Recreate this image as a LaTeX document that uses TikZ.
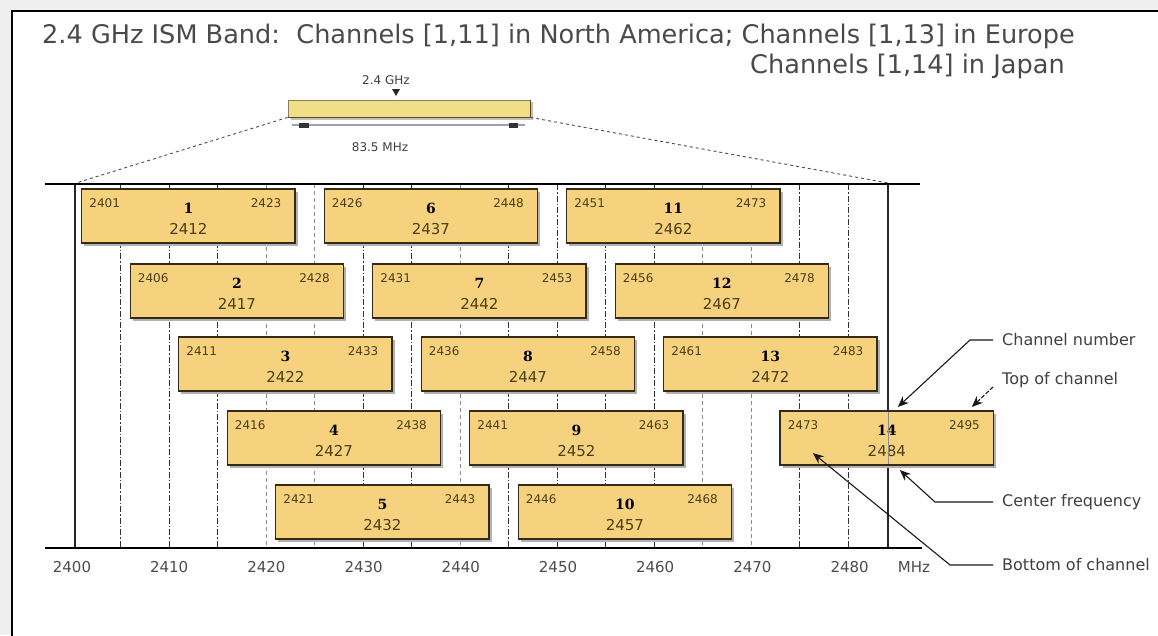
\documentclass[tikz,border=0pt]{standalone}
\usepackage{fontspec}
\setmainfont{DejaVu Sans}
\newfontfamily\chnumfont{DejaVu Serif}
\usetikzlibrary{arrows.meta,calc}
\definecolor{boxfill}{HTML}{F7D27E}
\definecolor{barfill}{HTML}{F2DE86}
\definecolor{boxline}{HTML}{332A18}
\definecolor{txtdark}{HTML}{4A3E14}
\definecolor{framebg}{HTML}{EFEFEF}
\definecolor{titlegray}{HTML}{4A4A4A}
\definecolor{dimgray}{HTML}{9AA0B0}
\definecolor{baredge}{HTML}{5A4A20}
\begin{document}
\begin{tikzpicture}[x=1pt,y=-1pt,
  chbox/.style={draw=boxline, line width=1.4pt, fill=boxfill, minimum width=213.4pt, minimum height=54pt, inner sep=0pt, outer sep=0pt},
  shadowbox/.style={fill=black!30, draw=none, minimum width=213.4pt, minimum height=54pt, inner sep=0pt},
  edgelbl/.style={font=\fontsize{12}{14}\selectfont, text=txtdark, inner sep=0pt},
  numlbl/.style={font=\chnumfont\bfseries\fontsize{14}{16}\selectfont, text=black, inner sep=0pt},
  cflbl/.style={font=\fontsize{15}{18}\selectfont, text=txtdark, inner sep=0pt},
  axlbl/.style={font=\fontsize{15}{18}\selectfont, text=black!70, inner sep=0pt},
  smalllbl/.style={font=\fontsize{12}{14}\selectfont, text=black!75, inner sep=0pt},
  titlelbl/.style={font=\fontsize{25.6}{30}\selectfont, text=titlegray, inner sep=0pt, anchor=base west},
  annlbl/.style={font=\fontsize{16}{19}\selectfont, text=black!75, anchor=west, inner sep=0pt},
  annline/.style={draw=black!90, line width=1.1pt},
  annarrow/.style={annline, -{Stealth[length=11pt,width=9pt]}},
  darkgrid/.style={draw=black!80, line width=0.9pt, dash pattern=on 6pt off 2pt on 1.5pt off 2pt},
  lightgrid/.style={draw=black!45, line width=0.7pt, dash pattern=on 4pt off 3pt},
  axisline/.style={draw=black, line width=1.6pt},
  solidv/.style={draw=black!85, line width=1.3pt},
  dashlink/.style={draw=black!70, line width=0.9pt, dash pattern=on 3pt off 3pt},
  bandbar/.style={draw=baredge!70, line width=0.8pt, fill=barfill, minimum width=242pt, minimum height=17pt, inner sep=0pt},
]
\useasboundingbox (0,0) rectangle (1158,635);
% background and frame
\fill[framebg] (0,0) rectangle (1158,635);
\fill[white] (12,11) rectangle (1175,650);
\draw[line width=2pt] (12,11) rectangle (1175,650);

% title
\node[titlelbl] (title1) at (42,43) {2.4 GHz ISM Band:\ \ Channels [1,11] in North America; Channels [1,13] in Europe};
\node[titlelbl] (title2) at (750,73) {Channels [1,14] in Japan};

% band bar
\node[smalllbl] (lbl24) at (386,80) {2.4 GHz};
\fill[black!85] (392,89) -- (400,89) -- (396,96) -- cycle;
\fill[black!25] (291,102) rectangle (533,120);
\node[bandbar] (band) at (409,108.5) {};
\draw[line width=1.6pt, draw=baredge] (band.south west) -- (band.south east);
\draw[line width=1.6pt, draw=baredge] (band.north east) -- (band.south east);
\coordinate (dimL) at (292,125);
\coordinate (dimR) at (525,125);
\draw[dimgray, line width=1.2pt] (dimL) -- (dimR);
\fill[black!80] (299,123) rectangle (309,127.5);
\fill[black!80] (509,123) rectangle (518,127.5);
\node[smalllbl] (lbl835) at (380,147) {83.5 MHz};

% axes
\coordinate (topL) at (45,184);
\coordinate (topR) at (920,184);
\coordinate (botL) at (45,548);
\coordinate (botR) at (922,548);
\coordinate (axL) at (76,183);
\coordinate (axR) at (888,183);
\draw[dashlink] (band.south west) -- (axL);
\draw[dashlink] (band.south east) -- (axR);

% grid lines
\foreach \f in {2405,2410,2415,2430,2435,2445,2450,2455,2460,2475,2480}{
  \draw[darkgrid] ({72+9.7*(\f-2400)},184) -- ({72+9.7*(\f-2400)},548);
}
\foreach \f in {2420,2425,2440,2465,2470}{
  \draw[lightgrid] ({72+9.7*(\f-2400)},184) -- ({72+9.7*(\f-2400)},548);
}
\draw[solidv] (75,184) -- (75,548);
\draw[solidv] (888,184) -- (888,548);
\draw[axisline] (topL) -- (topR);
\draw[axisline] (botL) -- (botR);

% channel boxes
\foreach \ch/\c/\row in {1/2412/189, 2/2417/264, 3/2422/337, 4/2427/411, 5/2432/485,
                         6/2437/189, 7/2442/264, 8/2447/337, 9/2452/411, 10/2457/485,
                         11/2462/189, 12/2467/264, 13/2472/337, 14/2484/411}{
  \pgfmathtruncatemacro\lo{\c-11}
  \pgfmathtruncatemacro\hi{\c+11}
  \pgfmathsetmacro\cx{72+9.7*(\c-2400)}
  \node[shadowbox] (sh\ch) at ({\cx+2.5},{\row+27+2.5}) {};
  \node[chbox] (ch\ch) at ({\cx},{\row+27}) {};
  \node[edgelbl] (lo\ch) at ($(ch\ch.north west)+(23,14)$) {\lo};
  \node[edgelbl] (hi\ch) at ($(ch\ch.north east)+(-29,14)$) {\hi};
  \node[numlbl] (num\ch) at ($(ch\ch.north)+(0,19)$) {\ch};
  \node[cflbl] (cf\ch) at ($(ch\ch.north)+(0,40)$) {\c};
}
\draw[black!45, line width=1pt] ($(ch14.north)+(1.2,0.7)$) -- ($(ch14.south)+(1.2,-0.7)$);

% axis labels
\foreach \k in {0,...,8}{
  \pgfmathtruncatemacro\lab{2400+10*\k}
  \node[axlbl] (ax\k) at ({72+97.2*\k},567) {\lab};
}
\node[axlbl] (axmhz) at (914,567) {MHz};

% annotations
\node[annlbl] (lblnum) at (1002,340) {Channel number};
\node[annlbl] (lbltop) at (1002,380) {Top of channel};
\node[annlbl] (lblcf) at (1002,502) {Center frequency};
\node[annlbl] (lblbot) at (1002,565) {Bottom of channel};
\draw[annarrow] ([xshift=-9pt]lblnum.west) -- ++(-23,0) -- ($(ch14.north)+(11,-4)$);
\draw[annarrow, dash pattern=on 4pt off 2pt] ([xshift=-9pt,yshift=-7pt]lbltop.west) -- ($(ch14.north)+(85,-4)$);
\draw[annarrow] ([xshift=-9pt]lblcf.west) -- ++(-58,0) -- ($(ch14.south)+(13,5)$);
\draw[annarrow] ([xshift=-9pt]lblbot.west) -- ++(-43,0) -- ($(ch14.center)+(-74,15)$);
\end{tikzpicture}
\end{document}
